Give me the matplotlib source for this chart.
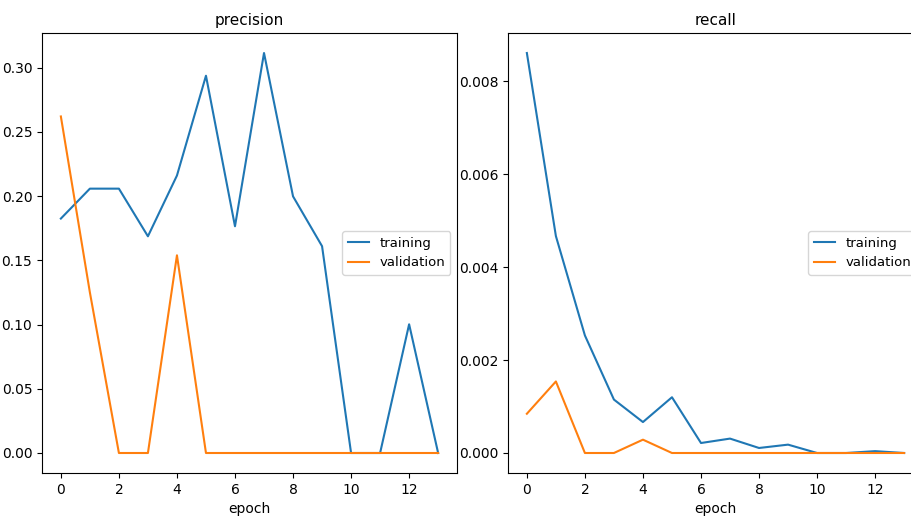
import matplotlib.pyplot as plt
import numpy as np

epochs = np.arange(14)

precision_train = [0.1825, 0.2058, 0.2058, 0.1687, 0.216, 0.2937, 0.1765,
                   0.3114, 0.1998, 0.161, 0.0, 0.0, 0.1002, 0.0]
precision_val = [0.262, 0.125, 0.0, 0.0, 0.1539, 0.0, 0.0,
                 0.0, 0.0, 0.0, 0.0, 0.0, 0.0, 0.0]

recall_train = [0.00861, 0.00467, 0.00253, 0.00115, 0.000666, 0.0012, 0.000215,
                0.00031, 0.000108, 0.00018, 0.0, 0.0, 0.00004, 0.0]
recall_val = [0.000845, 0.00154, 0.0, 0.0, 0.000287, 0.0, 0.0,
              0.0, 0.0, 0.0, 0.0, 0.0, 0.0, 0.0]

W, H = 912, 516
fig = plt.figure(figsize=(W / 100, H / 100), dpi=100)

# axes boxes in pixels: left, bottom, width, height (right panel is cut off at the edge)
boxes = [(42, 43, 415, 440), (508, 43, 415, 440)]
panels = [("precision", precision_train, precision_val),
          ("recall", recall_train, recall_val)]

for (l, b, w, h), (title, tr, va) in zip(boxes, panels):
    ax = fig.add_axes([l / W, b / H, w / W, h / H])
    ax.plot(epochs, tr, label="training")
    ax.plot(epochs, va, label="validation")
    ax.set_title(title, fontsize=11)
    ax.set_xlabel("epoch")
    ax.set_xticks(np.arange(0, 14, 2))
    ax.legend(loc="center right", fontsize=9.5, handlelength=1.6)

fig.savefig("out.png", dpi=100)
